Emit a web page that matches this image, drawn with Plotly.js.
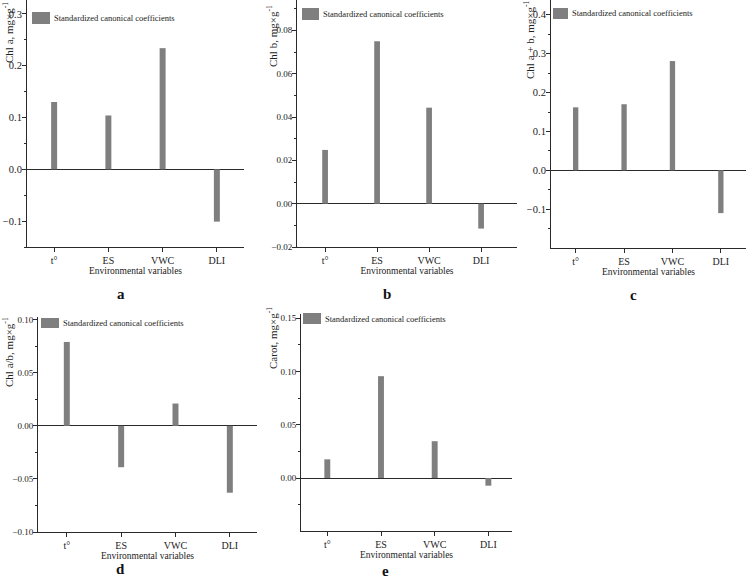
<!DOCTYPE html>
<html><head><meta charset="utf-8">
<script src="https://cdn.plot.ly/plotly-3.0.1.min.js"></script>
<style>html,body{margin:0;padding:0;background:#fff;}#chart{width:746px;height:579px;}</style>
</head><body><div id="chart"></div>
<script>
// ---- data ----
const categories = ['t°', 'ES', 'VWC', 'DLI'];
const chlA      = [0.130, 0.104, 0.234, -0.101];
const chlB      = [0.0248, 0.0750, 0.0443, -0.0115];
const chlAplusB = [0.162, 0.170, 0.281, -0.110];
const chlAtoB   = [0.079, -0.039, 0.021, -0.063];
const carot     = [0.0175, 0.0955, 0.0345, -0.0072];
const yTitles = ['Chl a, mg×g<sup>-1</sup>', 'Chl b, mg×g<sup>-1</sup>', 'Chl a + b, mg×g<sup>-1</sup>',
                 'Chl a/b, mg×g<sup>-1</sup>', 'Carot, mg×g<sup>-1</sup>'];
const legendLabel = 'Standardized canonical coefficients';
const xTitle = 'Environmental variables';
const panelLetters = ['a', 'b', 'c', 'd', 'e'];
const yDticks = [0.1, 0.02, 0.1, 0.05, 0.05];
const yTickFormats = ['.1f', '.2f', '.1f', '.2f', '.2f'];
const seriesList = [chlA, chlB, chlAplusB, chlAtoB, carot];

// ---- layout geometry (pixels) ----
const W = 746, H = 579;
const panels = [
  {L: 27,  R: 244, T: 0,   B: 247, yr: [-0.15, 0.327], xr: [-0.5, 3.5],   tf: 10.5,
   leg: [32, 50, 12, 24], ytc: [8, 33],   let: [121, 294]},
  {L: 297, R: 517, T: 0,   B: 247, yr: [-0.02, 0.094], xr: [-0.54, 3.69], tf: 9,
   leg: [302, 319, 8, 20], ytc: [272, 36], let: [387, 294]},
  {L: 551, R: 746, T: 0,   B: 248, yr: [-0.1997, 0.438], xr: [-0.51, 3.52], tf: 10.5,
   leg: [553, 568, 8, 19], ytc: [529, 40], let: [633, 295]},
  {L: 38,  R: 257, T: 317, B: 532, yr: [-0.10, 0.1025], xr: [-0.53, 3.5], tf: 9,
   leg: [41, 59, 318, 328], ytc: [8, 352], let: [120, 569]},
  {L: 301, R: 512, T: 314, B: 531, yr: [-0.0497, 0.1538], xr: [-0.49, 3.44], tf: 9,
   leg: [303, 321, 313, 324], ytc: [272, 338], let: [385, 571]}
];
const px = v => v / W;
const py = v => 1 - v / H;
const FONT = 'Liberation Serif, Times New Roman, serif';
const INK = '#2a2a2a';
const BAR = '#7f7f7f';

const data = [];
const layout = {
  width: W, height: H, margin: {l: 0, r: 0, t: 0, b: 0},
  paper_bgcolor: '#fff', plot_bgcolor: 'rgba(0,0,0,0)',
  showlegend: false, font: {family: FONT, color: '#222'},
  shapes: [], annotations: []
};

panels.forEach((p, i) => {
  const n = i === 0 ? '' : String(i + 1);
  data.push({
    type: 'bar', x: categories, y: seriesList[i],
    xaxis: 'x' + n, yaxis: 'y' + n, width: 0.11,
    marker: {color: BAR, line: {width: 0}},
    name: legendLabel, showlegend: false
  });
  layout['xaxis' + n] = {
    domain: [px(p.L), px(p.R)], anchor: 'y' + n, type: 'category', range: p.xr,
    showline: true, linecolor: INK, linewidth: 1, ticks: 'outside', ticklen: 4,
    tickcolor: INK, tickwidth: 1, showgrid: false, zeroline: false,
    tickfont: {family: FONT, size: 10, color: '#222'},
    title: {text: xTitle, font: {family: FONT, size: 9.5, color: '#222'}, standoff: 1},
    automargin: false, fixedrange: true
  };
  layout['yaxis' + n] = {
    domain: [py(p.B), py(p.T)], anchor: 'x' + n, range: p.yr,
    tick0: 0, dtick: yDticks[i], tickformat: yTickFormats[i],
    showline: true, linecolor: INK, linewidth: 1, ticks: 'outside', ticklen: 4,
    tickcolor: INK, tickwidth: 1, showgrid: false, ticklabelstandoff: -2,
    minor: {ticks: 'outside', ticklen: 2, dtick: yDticks[i] / 2, tickcolor: INK, tickwidth: 1, showgrid: false},
    zeroline: true, zerolinecolor: INK, zerolinewidth: 1,
    tickfont: {family: FONT, size: p.tf, color: '#222'},
    automargin: false, fixedrange: true
  };
  // legend swatch + label
  layout.shapes.push({
    type: 'rect', xref: 'paper', yref: 'paper',
    x0: px(p.leg[0]), x1: px(p.leg[1]), y0: py(p.leg[3]), y1: py(p.leg[2]),
    fillcolor: BAR, line: {width: 0}
  });
  layout.annotations.push({
    xref: 'paper', yref: 'paper', x: px(p.leg[1] + 2), y: py((p.leg[2] + p.leg[3]) / 2),
    xanchor: 'left', yanchor: 'middle', showarrow: false, text: legendLabel,
    font: {family: FONT, size: 8.5, color: '#222'}
  });
  // y-axis title
  layout.annotations.push({
    xref: 'paper', yref: 'paper', x: px(p.ytc[0]), y: py(p.ytc[1]),
    xanchor: 'center', yanchor: 'middle', showarrow: false, textangle: -90,
    text: yTitles[i], font: {family: FONT, size: 11, color: '#222'}
  });
  // panel letter
  layout.annotations.push({
    xref: 'paper', yref: 'paper', x: px(p.let[0]), y: py(p.let[1]),
    xanchor: 'center', yanchor: 'middle', showarrow: false,
    text: '<b>' + panelLetters[i] + '</b>', font: {family: FONT, size: 15, color: '#111'}
  });
});

Plotly.newPlot('chart', data, layout, {displayModeBar: false, staticPlot: true});
</script>
</body></html>
